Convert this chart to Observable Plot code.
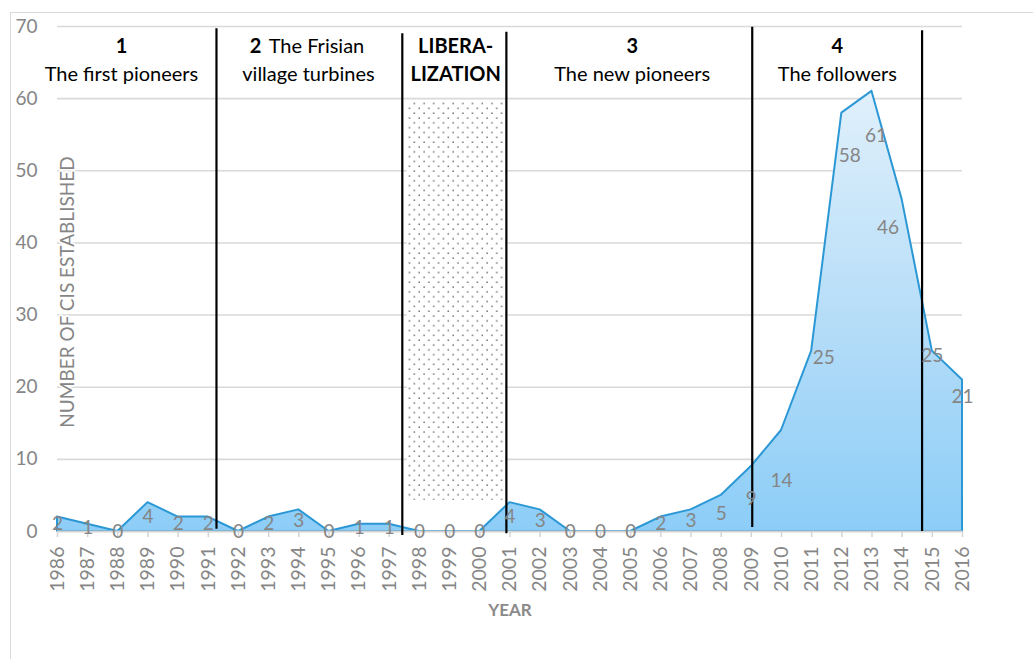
<!DOCTYPE html>
<html>
<head>
<meta charset="utf-8">
<script src="https://cdn.jsdelivr.net/npm/d3@7"></script>
<script src="https://cdn.jsdelivr.net/npm/@observablehq/plot@0.6"></script>
<style>
  html, body { margin: 0; padding: 0; background: #fff; overflow: hidden; }
  #wrap { position: relative; width: 1033px; height: 659px; }
  #wrap svg { position: absolute; left: 0; top: 0; }
  #border { position: absolute; left: 10px; top: 12px; width: 1100px; height: 700px;
            border-left: 1px solid #d9d9d9; border-top: 1px solid #d9d9d9; pointer-events: none; }
</style>
</head>
<body>
<div id="wrap"></div>
<script>
// ---- data ----
const years  = [1986,1987,1988,1989,1990,1991,1992,1993,1994,1995,1996,1997,1998,1999,2000,
                2001,2002,2003,2004,2005,2006,2007,2008,2009,2010,2011,2012,2013,2014,2015,2016];
const counts = [2,1,0,4,2,2,0,2,3,0,1,1,0,0,0,
                4,3,0,0,0,2,3,5,9,14,25,58,61,46,25,21];
const yTicks = [0,10,20,30,40,50,60,70];
// phase boundaries (year positions of the black separators)
const phaseBreaks = [1991.27, 1997.43, 2000.88, 2009.03, 2014.66];
const breakTop    = [69.7, 69.0, 69.2, 69.9, 69.4];
const breakBottom = [0.3, -0.55, -0.3, 0.55, 0];
const liberalization = {from: 1997.6, to: 2000.85};

// phase headings
const headTopBold = [
  {x: 1988.12, text: "1"},
  {x: 1999.2, text: "LIBERA-"},
  {x: 2005.05, text: "3"},
  {x: 2011.85, text: "4"}
];
const headTopSplit = [{x: 1992.37, bold: "2", rest: "The Frisian", restX: 1993.0}];
const headBottomNormal = [
  {x: 1988.12, text: "The first pioneers"},
  {x: 1994.32, text: "village turbines"},
  {x: 2005.05, text: "The new pioneers"},
  {x: 2011.85, text: "The followers"}
];
const headBottomBold = [{x: 1999.2, text: "LIZATION"}];

const data = years.map((year, i) => ({year, count: counts[i]}));

// label placement (labels manually moved in the original)
const labelMoved = {2011: [24.1, 0.4], 2012: [52.1, 0.26], 2013: [54.9, 0.13], 2014: [42.1, -0.47], 2015: [24.4, 0], 2016: [18.7, 0]};

const FONT = "Lato, 'Open Sans', sans-serif";
const GRAY = "#858585";
const HEAD = 20;

const chart = Plot.plot({
  width: 1033,
  height: 659,
  marginLeft: 57,
  marginRight: 71,
  marginTop: 26,
  marginBottom: 128,
  style: {fontFamily: FONT, background: "transparent"},
  x: {domain: [1986, 2016], axis: null},
  y: {domain: [0, 70], axis: null},
  marks: [
    Plot.ruleY(yTicks.filter(d => d > 0), {stroke: "#d9d9d9", strokeWidth: 1.6}),
    Plot.rect([liberalization], {x1: "from", x2: "to", y1: 4.3, y2: 59.7, fill: "url(#dots)"}),
    Plot.areaY(data, {x: "year", y: "count", fill: "url(#blueGrad)", stroke: "#2b98d5", strokeWidth: 2, strokeLinejoin: "round"}),
    Plot.ruleY([0], {stroke: "#d4d4d4", strokeWidth: 2}),
    Plot.axisX({ticks: years, tickFormat: d => String(d), tickRotate: -90, tickSize: 6, tickPadding: 9,
                fontSize: 19.5, stroke: "#d4d4d4", strokeWidth: 1.5, fill: GRAY, anchor: "bottom", label: null}),
    Plot.axisY({ticks: yTicks, tickSize: 0, tickPadding: 20, fontSize: 19, fill: GRAY, anchor: "left", label: null}),
    Plot.ruleX(phaseBreaks, {x: d => d, y1: (d, i) => breakBottom[i], y2: (d, i) => breakTop[i], stroke: "#000", strokeWidth: 2.2}),
    Plot.text(data, {
      x: d => d.year + (labelMoved[d.year] ? labelMoved[d.year][1] : 0),
      y: d => labelMoved[d.year] ? labelMoved[d.year][0] : d.count / 2,
      text: d => String(d.count), fontSize: 19, fill: GRAY
    }),
    Plot.text(headTopBold, {x: "x", y: 67.2, text: "text", fontSize: HEAD, fill: "#000", fontWeight: "bold"}),
    Plot.text(headTopSplit, {x: "x", y: 67.2, text: "bold", textAnchor: "start", fontSize: HEAD, fill: "#000", fontWeight: "bold"}),
    Plot.text(headTopSplit, {x: "restX", y: 67.2, text: "rest", textAnchor: "start", fontSize: HEAD, fill: "#000"}),
    Plot.text(headBottomNormal, {x: "x", y: 63.3, text: "text", fontSize: HEAD, fill: "#000"}),
    Plot.text(headBottomBold, {x: "x", y: 63.3, text: "text", fontSize: HEAD, fill: "#000", fontWeight: "bold"}),
    Plot.text(["NUMBER OF CIS ESTABLISHED"], {x: 1986.33, y: 33.2, rotate: -90, fontSize: 19, fill: GRAY,
      stroke: "white", strokeWidth: 3}),
    Plot.text(["YEAR"], {x: 2001, frameAnchor: "bottom", dy: 84, fontSize: 17, fontWeight: "bold", fill: "#8a8a8a"})
  ]
});

// gradient + dotted pattern definitions
const ys = chart.scale("y");
const svg = d3.select(chart);
const defs = svg.insert("defs", ":first-child");
const grad = defs.append("linearGradient").attr("id", "blueGrad")
  .attr("gradientUnits", "userSpaceOnUse")
  .attr("x1", 0).attr("x2", 0).attr("y1", ys.apply(61)).attr("y2", ys.apply(0));
grad.append("stop").attr("offset", "0%").attr("stop-color", "#e0f0fb");
grad.append("stop").attr("offset", "55%").attr("stop-color", "#b3dcf8");
grad.append("stop").attr("offset", "100%").attr("stop-color", "#8ccdf7");
const pat = defs.append("pattern").attr("id", "dots").attr("patternUnits", "userSpaceOnUse")
  .attr("width", 9.7).attr("height", 9.66);
pat.append("rect").attr("width", 9.7).attr("height", 9.66).attr("fill", "#fff");
pat.append("rect").attr("x", 1.5).attr("y", 1.5).attr("width", 1.2).attr("height", 1.2).attr("fill", "#222");
pat.append("rect").attr("x", 6.35).attr("y", 6.33).attr("width", 1.2).attr("height", 1.2).attr("fill", "#222");

const wrap = document.getElementById("wrap");
wrap.appendChild(chart);
const border = document.createElement("div");
border.id = "border";
wrap.appendChild(border);
</script>
</body>
</html>
